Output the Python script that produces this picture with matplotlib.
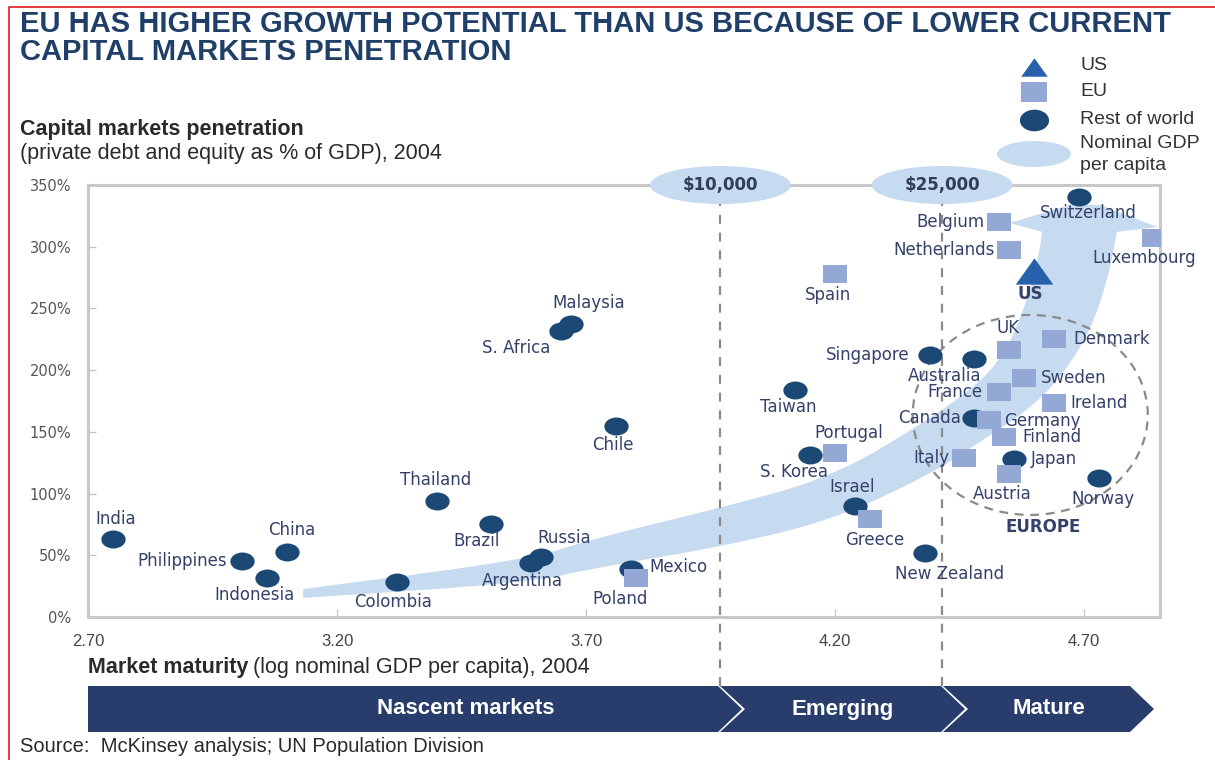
import matplotlib.pyplot as plt
import numpy as np
from matplotlib.path import Path
from matplotlib.patches import Ellipse, Polygon

# Market maturity (log nominal GDP per capita) vs capital markets penetration (% of GDP), 2004
us_names = ['US']
us_x = [4.60]
us_y = [280]

eu_names = ['Poland', 'Spain', 'Portugal', 'Greece', 'Belgium', 'Netherlands', 'Luxembourg',
            'UK', 'Denmark', 'Sweden', 'France', 'Ireland', 'Germany', 'Finland', 'Italy', 'Austria']
eu_x = [3.80, 4.20, 4.20, 4.27, 4.53, 4.55, 4.84, 4.55, 4.64, 4.58, 4.53, 4.64, 4.51, 4.54, 4.46, 4.55]
eu_y = [32, 278, 133, 79, 320, 297, 307, 216, 225, 194, 182, 173, 160, 146, 129, 116]

row_names = ['India', 'Philippines', 'China', 'Indonesia', 'Colombia', 'Thailand', 'Brazil',
             'Russia', 'Argentina', 'Malaysia', 'S. Africa', 'Chile', 'Mexico', 'Taiwan',
             'S. Korea', 'Israel', 'New Zealand', 'Singapore', 'Switzerland', 'Australia',
             'Canada', 'Japan', 'Norway']
row_x = [2.75, 3.01, 3.10, 3.06, 3.32, 3.40, 3.51, 3.61, 3.59, 3.67, 3.65, 3.76, 3.79, 4.12,
         4.15, 4.24, 4.38, 4.39, 4.69, 4.48, 4.48, 4.56, 4.73]
row_y = [63, 45, 53, 32, 28, 94, 75, 49, 44, 237, 232, 155, 39, 184, 131, 90, 52, 212, 340,
         209, 161, 128, 113]

thresholds = [3.97, 4.415]
threshold_labels = ['$10,000', '$25,000']
stages = ['Nascent markets', 'Emerging', 'Mature']

x_ticks = [2.70, 3.20, 3.70, 4.20, 4.70]
y_ticks = [0, 50, 100, 150, 200, 250, 300, 350]

NAVY = '#1b4875'
EU_BLUE = '#94a8d6'
US_BLUE = '#2760ab'
PALE = '#c6dbf0'
LABEL = '#34416a'
BAND = '#283d6b'
SANS = ['Liberation Sans', 'DejaVu Sans']

# label offsets in pixels (dx, dy, alignment)
offsets = {
    'India': (3, 20, 'center'), 'Philippines': (-15, 0, 'right'), 'China': (5, 22, 'center'),
    'Indonesia': (-13, -17, 'center'), 'Colombia': (-4, -20, 'center'),
    'Thailand': (-1, 21, 'center'), 'Brazil': (-15, -17, 'center'), 'Russia': (23, 19, 'center'),
    'Argentina': (-9, -18, 'center'), 'Malaysia': (18, 21, 'center'),
    'S. Africa': (-11, -17, 'right'), 'Chile': (-3, -19, 'center'), 'Mexico': (19, 2, 'left'),
    'Poland': (-16, -21, 'center'), 'Spain': (-7, -21, 'center'), 'Taiwan': (-7, -17, 'center'),
    'Portugal': (14, 20, 'center'), 'S. Korea': (-16, -17, 'center'),
    'Israel': (-3, 19, 'center'), 'Greece': (5, -21, 'center'),
    'New Zealand': (25, -21, 'center'), 'Singapore': (-20, 0, 'right'),
    'Belgium': (-15, 0, 'right'), 'Netherlands': (-15, 0, 'right'),
    'Switzerland': (9, -16, 'center'), 'Luxembourg': (-10, -20, 'center'),
    'UK': (-1, 22, 'center'), 'Denmark': (19, 0, 'left'), 'Australia': (-30, -17, 'center'),
    'Sweden': (17, 0, 'left'), 'France': (-17, 0, 'right'), 'Ireland': (16, 0, 'left'),
    'Canada': (-13, 0, 'right'), 'Germany': (15, -1, 'left'), 'Finland': (18, 0, 'left'),
    'Italy': (-15, 0, 'right'), 'Japan': (17, 0, 'left'), 'Austria': (-7, -20, 'center'),
    'Norway': (4, -21, 'center'), 'US': (-4, -23, 'center'),
}


def chaikin(pts, rounds=3):
    # corner cutting so the arrow edges come out as smooth curves
    p = np.asarray(pts, float)
    for _ in range(rounds):
        q = 0.75 * p[:-1] + 0.25 * p[1:]
        r = 0.25 * p[:-1] + 0.75 * p[1:]
        mid = np.empty((2 * len(q), 2))
        mid[0::2] = q
        mid[1::2] = r
        p = np.vstack([p[:1], mid, p[-1:]])
    return p


# slightly wide marker shapes
circ = Path.unit_circle()
dot = Path(circ.vertices * [1, 0.74], circ.codes)
box = Path([(-1, -0.75), (1, -0.75), (1, 0.75), (-1, 0.75), (-1, -0.75)],
           [Path.MOVETO, Path.LINETO, Path.LINETO, Path.LINETO, Path.CLOSEPOLY])
tri = Path([(-1, -0.7), (1, -0.7), (0, 0.7), (-1, -0.7)],
           [Path.MOVETO, Path.LINETO, Path.LINETO, Path.CLOSEPOLY])

fig = plt.figure(figsize=(12.15, 7.6), dpi=100, facecolor='white')

# pixel-space layer for the frame, legend and stage band
deco = fig.add_axes([0, 0, 1, 1])
deco.set_xlim(0, 1215)
deco.set_ylim(760, 0)
deco.axis('off')

ax = fig.add_axes([88 / 1215, 1 - 617 / 760, 1072 / 1215, 432 / 760])
ax.set_xlim(2.70, 4.8526)
ax.set_ylim(0, 350)

# growth arrow: upper edge, head, lower edge
upper_edge = [(3.132, 22.7), (3.580, 46.2), (3.728, 64.8), (3.969, 88.3), (4.196, 113.5),
              (4.397, 162.1), (4.497, 192.1), (4.541, 214.7), (4.571, 240.7), (4.598, 273.1),
              (4.612, 299.8), (4.616, 312.0)]
head = [(4.551, 319.3), (4.672, 333.9), (4.732, 333.9), (4.847, 316.0)]
lower_edge = [(4.766, 312.0), (4.752, 281.2), (4.722, 240.7), (4.672, 204.2), (4.602, 171.8),
              (4.497, 143.4), (4.397, 116.7), (4.196, 78.6), (3.969, 56.7), (3.728, 40.5),
              (3.580, 27.6), (3.132, 15.4)]
outline = np.vstack([chaikin(upper_edge), head, chaikin(lower_edge)])
ax.add_patch(Polygon(outline, closed=True, facecolor=PALE, edgecolor='none', zorder=1))

# GDP per capita thresholds
for tx, tl in zip(thresholds, threshold_labels):
    ax.plot([tx, tx], [-56, 350], ls=(0, (4, 4)), color='#8a8a8a', lw=1.6,
            clip_on=False, zorder=2)
    ax.add_patch(Ellipse((tx, 350), 0.283, 30.8, facecolor=PALE, edgecolor='none',
                         clip_on=False, zorder=5))
    ax.text(tx, 350, tl, ha='center', va='center', fontsize=12, weight='bold',
            color='#333d55', zorder=6, clip_on=False)

# Europe cluster outline
ax.add_patch(Ellipse((4.592, 163.7), 0.472, 162, facecolor='none', edgecolor='#8a8a8a',
                     lw=1.6, ls=(0, (4, 3)), zorder=2))
ax.text(4.618, 73, 'EUROPE', ha='center', va='center', fontsize=12, weight='bold',
        color=LABEL)

ax.scatter(row_x, row_y, s=17.5 ** 2, marker=dot, color=NAVY, linewidths=0, zorder=4)
ax.scatter(eu_x, eu_y, s=17.5 ** 2, marker=box, color=EU_BLUE, linewidths=0, zorder=4)
ax.scatter(us_x, us_y, s=27 ** 2, marker=tri, color=US_BLUE, linewidths=0, zorder=4)

for names, xs, ys in [(row_names, row_x, row_y), (eu_names, eu_x, eu_y), (us_names, us_x, us_y)]:
    for n, x, y in zip(names, xs, ys):
        dx, dy, ha = offsets[n]
        ax.annotate(n, (x, y), xytext=(dx, dy), textcoords='offset pixels', ha=ha,
                    va='center', fontsize=12, color=LABEL, zorder=7,
                    weight='bold' if n == 'US' else 'normal', annotation_clip=False)

for s in ax.spines.values():
    s.set_color('#c8c8c8')
    s.set_linewidth(2.2)
    s.set_zorder(3)
ax.set_xticks(x_ticks)
ax.set_xticklabels([f'{v:.2f}' for v in x_ticks], family=SANS, fontsize=12, color='#444444')
ax.set_yticks(y_ticks)
ax.set_yticklabels([f'{v}%' for v in y_ticks], fontsize=10.5, color='#555555')
ax.tick_params(direction='in', length=6, width=1, color='#c8c8c8')
ax.tick_params(axis='y', pad=12)
ax.tick_params(axis='x', pad=12)

# headings
fig.text(20 / 1215, 1 - 24 / 760, 'EU HAS HIGHER GROWTH POTENTIAL THAN US BECAUSE OF LOWER CURRENT',
         family=SANS, fontsize=21, weight='bold', color='#1f3f68', va='center')
fig.text(20 / 1215, 1 - 52 / 760, 'CAPITAL MARKETS PENETRATION',
         family=SANS, fontsize=21, weight='bold', color='#1f3f68', va='center')
fig.text(20 / 1215, 1 - 130 / 760, 'Capital markets penetration', family=SANS,
         fontsize=15.5, weight='bold', color='#2a2a2a', va='center')
fig.text(20 / 1215, 1 - 153 / 760, '(private debt and equity as % of GDP), 2004', family=SANS,
         fontsize=15.5, color='#2a2a2a', va='center')
xl = fig.text(88 / 1215, 1 - 667 / 760, 'Market maturity', family=SANS,
              fontsize=15.5, weight='bold', color='#2a2a2a', va='center')
fig.canvas.draw()
bb = xl.get_window_extent()
fig.text(bb.x1 / 1215 + 0.004, 1 - 667 / 760, '(log nominal GDP per capita), 2004', family=SANS,
         fontsize=15.5, color='#2a2a2a', va='center')
fig.text(20 / 1215, 1 - 746 / 760, 'Source:  McKinsey analysis; UN Population Division',
         family=SANS, fontsize=14.5, color='#2a2a2a', va='center')

# red frame
deco.plot([9, 9, 1215], [760, 7, 7], color='#e31b23', lw=1.2)

# legend
deco.scatter([1034], [67], s=19 ** 2, marker=tri, color=US_BLUE, linewidths=0)
deco.scatter([1034], [92], s=19 ** 2, marker=box, color=EU_BLUE, linewidths=0)
deco.scatter([1034], [120], s=21 ** 2, marker=dot, color=NAVY, linewidths=0)
deco.add_patch(Ellipse((1034, 154), 74, 26, facecolor=PALE, edgecolor='none'))
for ly, lt in [(66, 'US'), (92, 'EU'), (120, 'Rest of world'), (143, 'Nominal GDP'),
               (165, 'per capita')]:
    deco.text(1080, ly, lt, family=SANS, fontsize=14, color='#333333', va='center')

# market stage band
band_top, band_mid, band_bot = 686, 709, 732
cuts = [(88, 718), (720, 941), (943, 1130)]
for i, ((x0, x1), name) in enumerate(zip(cuts, stages)):
    notch = 0 if i == 0 else 25
    pts = [(x0, band_top), (x1, band_top), (x1 + 24, band_mid), (x1, band_bot),
           (x0, band_bot), (x0 + notch, band_mid)]
    deco.add_patch(Polygon(pts, closed=True, facecolor=BAND, edgecolor='none'))
    cx = (x0 + x1) / 2 + (0 if i == 0 else 12)
    deco.text(cx if i else 466, band_mid, name, family=SANS, fontsize=16, weight='bold',
              color='white', ha='center', va='center')

fig.savefig('out.png', dpi=100, facecolor='white')
